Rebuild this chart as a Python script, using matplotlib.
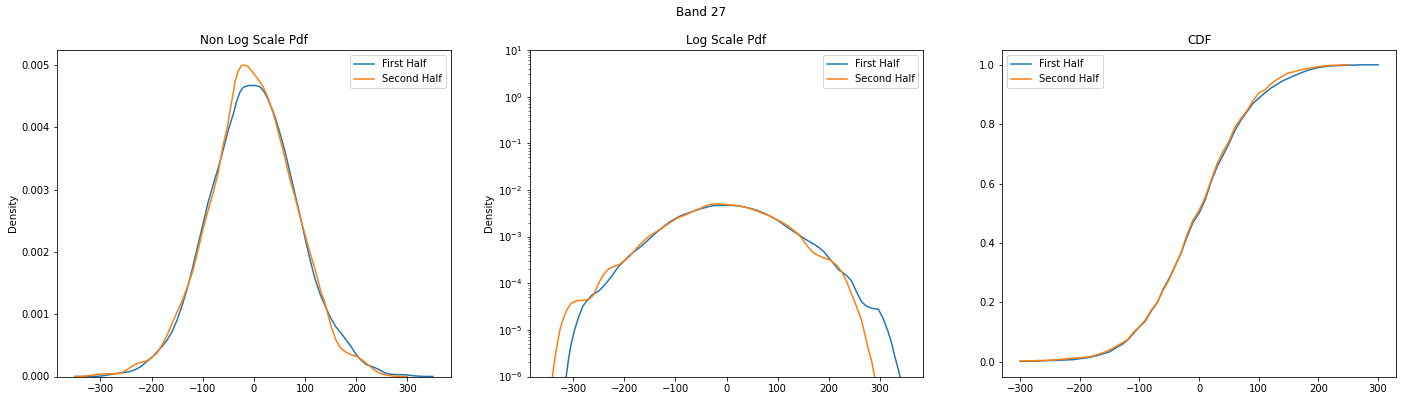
import matplotlib
matplotlib.use("Agg")
import matplotlib.pyplot as plt

# density, closer spacing in the tails and at the peak
pdf_x_first = [-350, -340, -330, -320, -313, -309, -304, -297, -289, -281, -273, -263, -250, -241, -231, -221,
               -211, -200, -190, -180, -170, -160, -150, -140, -130, -120, -110, -100, -90, -80, -70, -60, -50,
               -40, -34, -27, -21, -11, 2, 12, 20, 28, 40, 50, 60, 70, 80, 90, 100, 110, 120, 130, 140, 150, 160,
               170, 180, 190, 200, 210, 220, 225, 235, 244, 254, 264, 274, 284, 297, 306, 316, 323, 329, 336, 339,
               350]
pdf_first = [1e-8, 4e-8, 1.5e-7, 5.5e-7, 1.07e-6, 2.3e-6, 4.8e-6, 1e-5, 1.9e-5, 3.2e-5, 4.2e-5, 5.6e-5, 6.8e-5,
             8.5e-5, 1.14e-4, 1.6e-4, 2.3e-4, 3e-4, 3.9e-4, 4.8e-4, 5.8e-4, 7.2e-4, 9.1e-4, 1.15e-3, 1.42e-3,
             1.74e-3, 2.09e-3, 2.43e-3, 2.78e-3, 3.07e-3, 3.34e-3, 3.64e-3, 3.96e-3, 4.22e-3, 4.41e-3, 4.57e-3,
             4.64e-3, 4.67e-3, 4.67e-3, 4.65e-3, 4.57e-3, 4.44e-3, 4.2e-3, 3.93e-3, 3.64e-3, 3.29e-3, 2.94e-3,
             2.59e-3, 2.22e-3, 1.87e-3, 1.55e-3, 1.31e-3, 1.12e-3, 9.4e-4, 8e-4, 7e-4, 5.9e-4, 4.8e-4, 3.5e-4,
             2.6e-4, 1.9e-4, 1.78e-4, 1.45e-4, 1.14e-4, 6.6e-5, 4e-5, 3.2e-5, 2.9e-5, 2.75e-5, 1.78e-5, 9.1e-6,
             5.1e-6, 2.7e-6, 1.4e-6, 1.02e-6, 3e-7]

pdf_x_second = [-350, -345, -340, -335, -330, -325, -319, -312, -304, -293, -280, -269, -260, -250, -241, -231,
                -221, -210, -201, -190, -180, -170, -160, -150, -140, -130, -120, -110, -100, -90, -80, -70, -60,
                -52, -47, -40, -37, -31, -24, -18, -11, -1, 8, 18, 28, 38, 50, 60, 70, 80, 90, 100, 110, 120, 130,
                140, 150, 160, 170, 180, 190, 202, 215, 225, 235, 244, 254, 264, 270, 277, 284, 289, 300]
pdf_second = [2.5e-7, 5e-7, 1.07e-6, 2.7e-6, 5.6e-6, 1.08e-5, 1.77e-5, 2.7e-5, 3.7e-5, 4.2e-5, 4.3e-5, 4.5e-5,
              5.6e-5, 1e-4, 1.5e-4, 2e-4, 2.27e-4, 2.5e-4, 3e-4, 3.7e-4, 5e-4, 6.6e-4, 8.5e-4, 1.04e-3, 1.22e-3,
              1.44e-3, 1.68e-3, 2e-3, 2.35e-3, 2.65e-3, 2.94e-3, 3.26e-3, 3.72e-3, 4e-3, 4.25e-3, 4.57e-3, 4.73e-3,
              4.9e-3, 4.99e-3, 5e-3, 4.97e-3, 4.87e-3, 4.77e-3, 4.65e-3, 4.46e-3, 4.22e-3, 3.85e-3, 3.53e-3,
              3.18e-3, 2.89e-3, 2.57e-3, 2.27e-3, 1.98e-3, 1.71e-3, 1.39e-3, 1.15e-3, 8.3e-4, 5.9e-4, 4.5e-4,
              3.9e-4, 3.5e-4, 3.16e-4, 2.45e-4, 1.78e-4, 1.08e-4, 6.1e-5, 3.2e-5, 1.6e-5, 8.5e-6, 4e-6, 2.1e-6,
              1.07e-6, 2e-7]

cdf_x_first = list(range(-300, 310, 10))
cdf_first = [.001, .001, .002, .002, .003, .004, .004, .005, .006, .007, .010, .012, .016, .021, .027, .033,
             .046, .057, .072, .095, .117, .137, .171, .199, .245, .281, .324, .366, .422, .470, .500, .544,
             .605, .656, .695, .734, .779, .813, .841, .869, .888, .905, .921, .934, .946, .955, .964, .972,
             .980, .986, .991, .994, .996, .997, .998, .999, .999, 1.0, 1.0, 1.0, 1.0]

cdf_x_second = list(range(-300, 260, 10))
cdf_second = [.002, .003, .003, .004, .004, .005, .006, .008, .010, .012, .013, .015, .018, .024, .031, .039,
              .051, .062, .074, .099, .118, .141, .174, .200, .241, .277, .322, .369, .430, .478, .510, .553,
              .610, .666, .708, .742, .790, .819, .845, .878, .905, .915, .935, .950, .962, .973, .977, .983,
              .987, .990, .994, .996, .998, .999, 1.0, 1.0]

fig, (ax1, ax2, ax3) = plt.subplots(1, 3, figsize=(1403 / 72, 400 / 72), dpi=72)
fig.patch.set_facecolor("white")
fig.suptitle("Band 27", x=0.4997, y=0.985, fontsize=12)

ax1.plot(pdf_x_first, pdf_first, label="First Half")
ax1.plot(pdf_x_second, pdf_second, label="Second Half")
ax1.set_title("Non Log Scale Pdf")
ax1.set_ylabel("Density")
ax1.set_xlim(-385, 385)
ax1.set_ylim(0, 0.00524)
ax1.legend(loc="upper right")

ax2.plot(pdf_x_first, pdf_first, label="First Half")
ax2.plot(pdf_x_second, pdf_second, label="Second Half")
ax2.set_yscale("log")
ax2.set_title("Log Scale Pdf")
ax2.set_ylabel("Density")
ax2.set_xlim(-385, 385)
ax2.set_ylim(1e-6, 10)
ax2.legend(loc="upper right")

ax3.plot(cdf_x_first, cdf_first, label="First Half")
ax3.plot(cdf_x_second, cdf_second, label="Second Half")
ax3.set_title("CDF")
ax3.set_xlim(-330, 330)
ax3.set_ylim(-0.05, 1.05)
ax3.legend(loc="upper left")

fig.subplots_adjust(left=57 / 1403, right=1396 / 1403, top=1 - 50 / 400, bottom=1 - 376.5 / 400, wspace=0.2)
fig.savefig("out.png", dpi=72)
